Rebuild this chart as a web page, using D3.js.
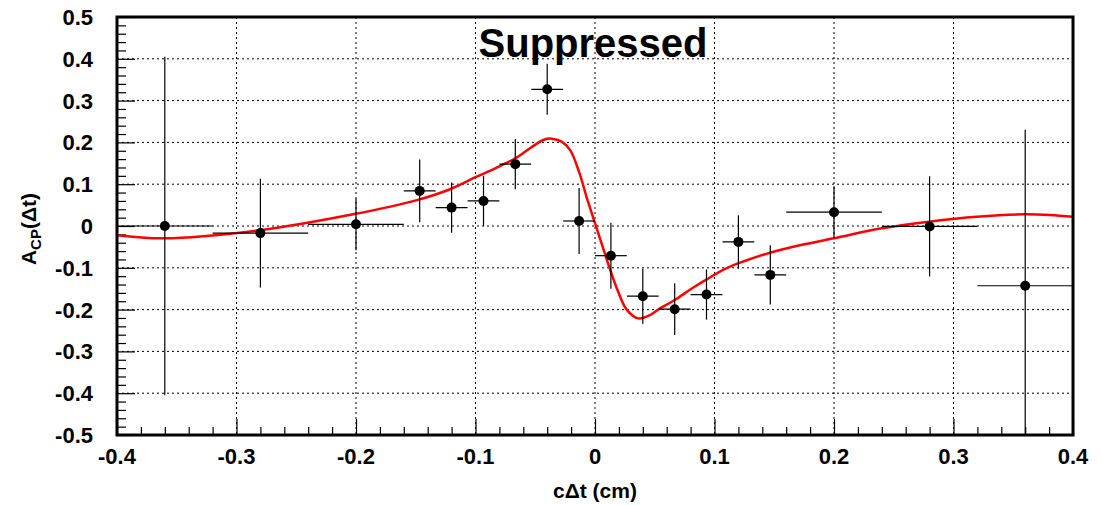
<!DOCTYPE html>
<style>
  body { margin: 0; background: white; }
  svg { display: block; background: white; font-family: "Liberation Sans", Arial, sans-serif; font-weight: bold; }
  .grid line { stroke: black; stroke-width: 1; stroke-dasharray: 2,3; }
  .frame { fill: none; stroke: black; stroke-width: 3; }
  .err { stroke: black; stroke-width: 1.2; }
  .fit { fill: none; stroke: #ff0000; stroke-width: 2.5; }
</style>
<body>
</body>
<script src="https://cdn.jsdelivr.net/npm/d3@7/dist/d3.min.js"></script>
<script>
  const w = 1102, h = 505;
  const margin = {l: 117, r: 29, t: 17, b: 70};
  const l = margin.l, r = w - margin.r, t = margin.t, b = h - margin.b;

  // measured points (bin centre, half width, asymmetry value, error)
  const xCenters = [-0.36, -0.28, -0.2, -0.1467, -0.12, -0.0933, -0.0667, -0.04, -0.0133,
                    0.0133, 0.04, 0.0667, 0.0933, 0.12, 0.1467, 0.2, 0.28, 0.36];
  const xHalf = [0.04, 0.04, 0.04, 0.0133, 0.0133, 0.0133, 0.0133, 0.0133, 0.0133,
                 0.0133, 0.0133, 0.0133, 0.0133, 0.0133, 0.0133, 0.04, 0.04, 0.04];
  const yValues = [0, -0.017, 0.004, 0.084, 0.044, 0.060, 0.148, 0.327, 0.012,
                   -0.071, -0.168, -0.199, -0.164, -0.038, -0.117, 0.033, -0.001, -0.143];
  const yErrors = [0.405, 0.13, 0.062, 0.075, 0.06, 0.06, 0.06, 0.061, 0.079,
                   0.079, 0.066, 0.062, 0.06, 0.064, 0.071, 0.062, 0.12, 0.373];

  // fitted curve
  const fitX = [-0.4, -0.3615, -0.2803, -0.2025, -0.149, -0.1213, -0.099, -0.0795, -0.0667,
                -0.0544, -0.0433, -0.0362, -0.0279, -0.0209, -0.0134, -0.0069, 0.0008, 0.0078,
                0.0131, 0.0195, 0.0265, 0.0362, 0.046, 0.0544, 0.0667, 0.0823, 0.0935, 0.1102,
                0.1241, 0.1464, 0.1659, 0.2, 0.2399, 0.2795, 0.3194, 0.3593, 0.3808, 0.4];
  const fitY = [-0.022, -0.0295, -0.010, 0.028, 0.062, 0.088, 0.118, 0.1435, 0.162,
                0.186, 0.2057, 0.209, 0.2017, 0.182, 0.130, 0.068, 0.0, -0.062,
                -0.108, -0.158, -0.200, -0.221, -0.213, -0.197, -0.177, -0.147, -0.1275, -0.101,
                -0.085, -0.064, -0.0495, -0.0295, -0.0056, 0.0104, 0.0223, 0.028, 0.0263, 0.022];

  const xTicks = [-0.4, -0.3, -0.2, -0.1, 0, 0.1, 0.2, 0.3, 0.4];
  const yTicks = [-0.5, -0.4, -0.3, -0.2, -0.1, 0, 0.1, 0.2, 0.3, 0.4, 0.5];

  const x = d3.scaleLinear().domain([-0.4, 0.4]).range([l, r]);
  const y = d3.scaleLinear().domain([-0.5, 0.5]).range([b, t]);

  const svg = d3.select('body').append('svg').attr('width', w).attr('height', h);

  svg.append('defs').append('clipPath').attr('id', 'clip')
    .append('rect').attr('x', l).attr('y', t).attr('width', r - l).attr('height', b - t);

  // grid
  const grid = svg.append('g').attr('class', 'grid');
  grid.selectAll('.gx').data(xTicks.slice(1, -1)).join('line')
    .attr('x1', d => x(d)).attr('x2', d => x(d)).attr('y1', t).attr('y2', b);
  grid.selectAll('.gy').data(yTicks.slice(1, -1)).join('line').attr('class', 'gy')
    .attr('y1', d => y(d)).attr('y2', d => y(d)).attr('x1', l).attr('x2', r);

  // axes: ticks inside, only bottom and left
  const fmt = d => d === 0 ? '0' : d3.format('.1f')(d).replace('−', '-');
  const xAxis = svg.append('g').attr('transform', `translate(0, ${b})`)
    .call(d3.axisTop(x).tickValues(d3.range(-0.4, 0.4001, 0.02)).tickSize(8).tickFormat(''));
  xAxis.selectAll('.tick line').filter(d => Math.abs(Math.round(d * 10) - d * 10) < 1e-6)
    .attr('y2', -16);
  const yAxis = svg.append('g').attr('transform', `translate(${l}, 0)`)
    .call(d3.axisRight(y).tickValues(d3.range(-0.5, 0.5001, 0.02)).tickSize(9).tickFormat(''));
  yAxis.selectAll('.tick line').filter(d => Math.abs(Math.round(d * 10) - d * 10) < 1e-6)
    .attr('x2', 18);
  svg.selectAll('.domain').remove();
  svg.selectAll('.tick line').attr('stroke', 'black').attr('stroke-width', 1.2);

  svg.append('g').selectAll('text').data(xTicks).join('text')
    .attr('x', d => x(d)).attr('y', b + 29)
    .attr('text-anchor', 'middle').attr('font-size', 22)
    .text(fmt);
  svg.append('g').selectAll('text').data(yTicks).join('text')
    .attr('x', 93).attr('y', d => y(d) + 8)
    .attr('text-anchor', 'end').attr('font-size', 22)
    .text(fmt);

  // fit curve
  const fitData = fitX.map((d, i) => [d, fitY[i]]);
  svg.append('path').datum(fitData).attr('class', 'fit').attr('clip-path', 'url(#clip)')
    .attr('d', d3.line().x(d => x(d[0])).y(d => y(d[1])).curve(d3.curveCatmullRom.alpha(0.5)));

  // points with error bars
  const pts = xCenters.map((d, i) => ({x: d, hx: xHalf[i], y: yValues[i], e: yErrors[i]}));
  const pg = svg.append('g').attr('clip-path', 'url(#clip)');
  pg.selectAll('.ex').data(pts).join('line').attr('class', 'err')
    .attr('x1', d => x(d.x - d.hx)).attr('x2', d => x(d.x + d.hx))
    .attr('y1', d => y(d.y)).attr('y2', d => y(d.y));
  pg.selectAll('.ey').data(pts).join('line').attr('class', 'err')
    .attr('x1', d => x(d.x)).attr('x2', d => x(d.x))
    .attr('y1', d => y(d.y - d.e)).attr('y2', d => y(d.y + d.e));
  pg.selectAll('circle').data(pts).join('circle')
    .attr('cx', d => x(d.x)).attr('cy', d => y(d.y)).attr('r', 5).attr('fill', 'black');

  // frame
  svg.append('rect').attr('class', 'frame')
    .attr('x', l).attr('y', t).attr('width', r - l).attr('height', b - t);

  // titles
  svg.append('text').attr('x', 593).attr('y', 57).attr('text-anchor', 'middle')
    .attr('font-size', 40).text('Suppressed');

  svg.append('text').attr('x', 595).attr('y', 498).attr('text-anchor', 'middle')
    .attr('font-size', 21).text('c\u0394t (cm)');

  const yt = svg.append('text').attr('transform', 'translate(36, 229) rotate(-90)')
    .attr('text-anchor', 'middle').attr('font-size', 21);
  yt.append('tspan').text('A');
  yt.append('tspan').attr('font-size', 15).attr('dy', 5).text('CP');
  yt.append('tspan').attr('dy', -5).text('(\u0394t)');
</script>
